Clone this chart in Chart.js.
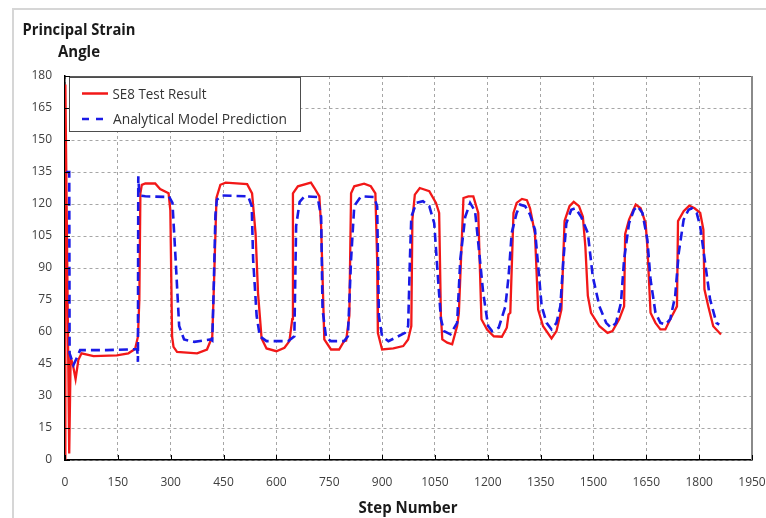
<!DOCTYPE html>
<html>
<head>
<meta charset="utf-8">
<title>Principal Strain Angle</title>
<script src="https://cdn.jsdelivr.net/npm/chart.js@4.4.1/dist/chart.umd.min.js"></script>
<style>
  html, body { margin: 0; padding: 0; background: #fff; }
  #wrap { width: 766px; height: 518px; }
</style>
</head>
<body>
<div id="wrap"><canvas id="myChart" width="766" height="518"></canvas></div>
<script>
// SE8 test: step number and principal strain angle (deg)
const testStep = [0, 1, 12, 16, 22, 30, 38, 47, 81, 147, 180, 199, 207, 211, 214, 218, 228, 256, 270, 294, 299, 304, 308, 318, 375, 403,
    418, 422, 430, 441, 456, 517, 531, 541, 548, 558, 572, 600, 623, 637, 645, 647, 661, 698, 708, 722, 727, 736, 755, 778, 792,
    798, 807, 812, 821, 849, 868, 881, 886, 888, 900, 932, 960, 974, 983, 986, 993, 1007, 1034, 1053, 1062, 1067, 1071, 1085, 1099,
    1113, 1118, 1131, 1145, 1159, 1173, 1182, 1198, 1217, 1240, 1254, 1259, 1264, 1273, 1282, 1297, 1311, 1320, 1327, 1334, 1343,
    1357, 1381, 1395, 1409, 1418, 1432, 1444, 1459, 1470, 1477, 1484, 1493, 1517, 1540, 1554, 1573, 1587, 1590, 1601, 1620, 1634,
    1648, 1653, 1662, 1676, 1690, 1704, 1718, 1737, 1740, 1756, 1772, 1787, 1803, 1812, 1815, 1826, 1840, 1862];
const testAngle = [0, 176, 3, 48, 45, 38, 47, 50, 48.7, 49, 50, 52, 57.8, 75, 125, 129, 129.6, 129.6, 127, 125, 117, 57.8, 53, 50.7, 50, 51.8,
    57.8, 78, 123, 129, 130, 129.3, 125, 106, 78, 57, 52.3, 51, 52.6, 55.7, 66, 125, 128.3, 130, 127.5, 123.6, 109.6, 56.5, 51.8, 51.8, 55.7,
    56, 67.5, 125, 128.3, 129.5, 128.3, 125, 94, 59.6, 51.8, 52.3, 53.4, 56.5, 62.8, 112.7, 124.4, 127.5, 126, 120.5, 115.8, 67.5, 56.5, 55, 54.2,
    62.8, 69, 122.8, 123.6, 123.6, 115.8, 66, 61.2, 58, 57.8, 62, 68.2, 69, 115.8, 120.5, 122.4, 121.8, 118, 112, 106, 70.5,
    62.7, 57, 60.4, 70.5, 112, 119, 121, 119, 114, 100, 77, 69, 62.7, 59.6, 60.4, 66, 72, 106, 112.7, 119.7, 118,
    111, 100, 69, 64.3, 61.2, 61.2, 66, 72, 112, 116.6, 119.2, 118, 115.8, 108, 80, 72, 62.7, 58.8];

// analytical model prediction
const modelStep = [3, 12, 13, 19, 24, 31, 43, 119, 176, 205, 207, 208, 211, 228, 289, 295, 305, 314, 324, 338, 367, 414,
    418, 422, 427, 431, 445, 520, 530, 534, 544, 553, 572, 633, 651, 656, 666, 680, 717, 727, 731, 741, 755, 792,
    803, 812, 821, 840, 877, 886, 891, 900, 918, 946, 965, 974, 979, 983, 997, 1016, 1034, 1048, 1057, 1067, 1076, 1094,
    1113, 1122, 1136, 1150, 1164, 1173, 1187, 1201, 1212, 1231, 1250, 1259, 1268, 1282, 1292, 1306, 1320, 1334, 1343, 1353,
    1367, 1381, 1395, 1406, 1414, 1423, 1437, 1449, 1465, 1484, 1498, 1517, 1536, 1550, 1564, 1578, 1587, 1601, 1615, 1625,
    1639, 1653, 1662, 1676, 1690, 1704, 1718, 1732, 1742, 1756, 1770, 1779, 1793, 1803, 1817, 1831, 1849, 1857];
const modelAngle = [135, 135, 50, 47, 44.5, 47, 51.5, 51.5, 51.8, 52, 46, 133, 124, 123.6, 123.3, 123.6, 120.5, 94, 62.8, 56.5, 55.4, 56.5,
    56, 80, 115, 122, 124, 123.6, 119, 94, 67.5, 58, 55.7, 55.7, 58, 109.6, 121, 123.6, 123.3, 114, 70.6, 57.3, 55.7, 55.7,
    58, 94, 119, 123.6, 123.3, 119, 67.5, 58, 55.7, 58, 59.6, 62.8, 94, 114, 120.5, 121.3, 119, 111, 89.3, 66, 60.4, 58.9,
    64.3, 94, 114, 120.5, 116.6, 101.8, 78.4, 62.8, 60.4, 62, 72, 86, 106.5, 115.8, 119.7, 119, 115, 108, 91, 72,
    64.3, 61.2, 64.3, 72, 92.4, 111, 117.3, 118, 114, 106.4, 86, 72, 64.3, 62, 64.3, 73.6, 94, 111, 117.3, 119,
    115.8, 103.3, 84.6, 69, 64.3, 63.5, 66, 77, 97, 112.7, 117.3, 118, 115.8, 109.5, 92.4, 75.3, 64.3, 63.5];

const xTicks = [0, 150, 300, 450, 600, 750, 900, 1050, 1200, 1350, 1500, 1650, 1800, 1950];
const yTicks = [0, 15, 30, 45, 60, 75, 90, 105, 120, 135, 150, 165, 180];

const seriesNames = ['SE8 Test Result', 'Analytical Model Prediction'];

const testPoints = testStep.map((s, i) => ({ x: s, y: testAngle[i] }));
const modelPoints = modelStep.map((s, i) => ({ x: s, y: modelAngle[i] }));

const RED = '#f21818';
const BLUE = '#1a1ae6';

// draws text squeezed/stretched to a given width (narrow Calibri-like look)
function fitText(ctx, text, x, y, width, align) {
    const w = ctx.measureText(text).width;
    const sx = width / w;
    ctx.save();
    ctx.translate(x, y);
    ctx.scale(sx, 1);
    ctx.textAlign = 'left';
    ctx.fillText(text, align === 'center' ? -w / 2 : 0, 0);
    ctx.restore();
}

const decor = {
    id: 'decor',
    beforeDraw(chart) {
        const ctx = chart.ctx;
        ctx.save();
        ctx.fillStyle = '#fff';
        ctx.fillRect(0, 0, chart.width, chart.height);
        // outer chart frame
        ctx.strokeStyle = '#d6d6d6';
        ctx.lineWidth = 2;
        ctx.beginPath();
        ctx.moveTo(13, chart.height);
        ctx.lineTo(13, 9);
        ctx.lineTo(chart.width, 9);
        ctx.stroke();

        // axis titles
        ctx.fillStyle = '#1a1a1a';
        ctx.textBaseline = 'alphabetic';
        ctx.font = 'bold 16px "Open Sans"';
        fitText(ctx, 'Principal Strain', 79, 34.5, 113, 'center');
        fitText(ctx, 'Angle', 79, 56.5, 42, 'center');
        fitText(ctx, 'Step Number', 408, 513, 99, 'center');
        ctx.restore();
    },
    afterDatasetsDraw(chart) {
        const ctx = chart.ctx;
        const a = chart.chartArea;
        const xs = chart.scales.x;
        const ys = chart.scales.y;
        ctx.save();
        // top and right sides of the plot area
        ctx.strokeStyle = '#5a5a5a';
        ctx.lineWidth = 1;
        ctx.beginPath();
        ctx.moveTo(a.left, a.top + 0.5);
        ctx.lineTo(a.right, a.top + 0.5);
        ctx.stroke();
        ctx.strokeStyle = '#8a8a8a';
        ctx.lineWidth = 2;
        ctx.beginPath();
        ctx.moveTo(a.right, a.top);
        ctx.lineTo(a.right, a.bottom);
        ctx.stroke();

        // tick marks pointing into the plot
        ctx.strokeStyle = '#000';
        ctx.lineWidth = 1;
        ctx.beginPath();
        xTicks.forEach(t => {
            const px = Math.round(xs.getPixelForValue(t)) + 0.5;
            ctx.moveTo(px, a.bottom);
            ctx.lineTo(px, a.bottom - 5);
        });
        yTicks.forEach(t => {
            const py = Math.round(ys.getPixelForValue(t)) + 0.5;
            ctx.moveTo(a.left, py);
            ctx.lineTo(a.left + 5, py);
        });
        ctx.stroke();

        // legend box
        ctx.fillStyle = '#fff';
        ctx.fillRect(69.5, 77.5, 231, 54);
        ctx.strokeStyle = '#4d4d4d';
        ctx.lineWidth = 1;
        ctx.strokeRect(69.5, 77.5, 231, 54);

        ctx.lineWidth = 2.5;
        ctx.strokeStyle = RED;
        ctx.beginPath();
        ctx.moveTo(82, 93.5);
        ctx.lineTo(108, 93.5);
        ctx.stroke();
        ctx.strokeStyle = BLUE;
        ctx.setLineDash([7, 7]);
        ctx.beginPath();
        ctx.moveTo(82, 119);
        ctx.lineTo(103, 119);
        ctx.stroke();
        ctx.setLineDash([]);

        ctx.fillStyle = '#333';
        ctx.font = '15px "Open Sans"';
        ctx.textBaseline = 'alphabetic';
        fitText(ctx, seriesNames[0], 112.5, 99, 94, 'left');
        fitText(ctx, seriesNames[1], 113, 124, 174, 'left');
        ctx.restore();
    }
};

const ctx = document.getElementById('myChart').getContext('2d');

const myChart = new Chart(ctx, {
    type: 'scatter',
    data: {
        datasets: [
            {
                label: seriesNames[0],
                data: testPoints,
                showLine: true,
                borderColor: RED,
                borderWidth: 2.3,
                pointRadius: 0,
                tension: 0,
                order: 1
            },
            {
                label: seriesNames[1],
                data: modelPoints,
                showLine: true,
                borderColor: BLUE,
                borderWidth: 2.6,
                borderDash: [9, 5],
                pointRadius: 0,
                tension: 0,
                order: 0
            }
        ]
    },
    options: {
        responsive: false,
        animation: false,
        layout: {
            padding: { left: 0, top: 76, right: 14, bottom: 0 }
        },
        plugins: {
            legend: { display: false },
            tooltip: { enabled: false }
        },
        scales: {
            x: {
                type: 'linear',
                min: 0,
                max: 1950,
                afterFit: scale => {
                    scale.height = 58;
                    scale.paddingLeft = 0;
                    scale.paddingRight = 0;
                },
                afterBuildTicks: scale => { scale.ticks = xTicks.map(v => ({ value: v })); },
                grid: {
                    color: '#a6a6a6',
                    lineWidth: 1,
                    drawTicks: false
                },
                border: { color: '#000', width: 1.5, dash: [3, 3] },
                ticks: {
                    padding: 15,
                    maxRotation: 0,
                    color: '#404040',
                    font: { family: 'Open Sans', size: 12 },
                    callback: v => String(v)
                }
            },
            y: {
                type: 'linear',
                min: 0,
                max: 180,
                afterFit: scale => {
                    scale.width = 65;
                    scale.paddingTop = 0;
                    scale.paddingBottom = 0;
                },
                afterBuildTicks: scale => { scale.ticks = yTicks.map(v => ({ value: v })); },
                grid: {
                    color: '#a6a6a6',
                    lineWidth: 1,
                    drawTicks: false
                },
                border: { color: '#000', width: 1.5, dash: [3, 3] },
                ticks: {
                    padding: 13,
                    color: '#404040',
                    font: { family: 'Open Sans', size: 12 },
                    callback: v => String(v)
                }
            }
        }
    },
    plugins: [decor]
});
</script>
</body>
</html>
